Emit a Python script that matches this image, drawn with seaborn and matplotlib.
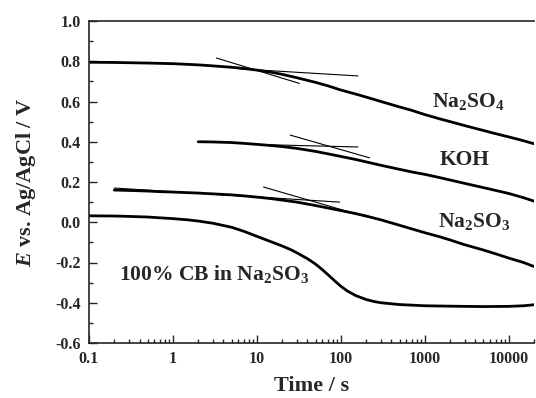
import numpy as np
import pandas as pd
import matplotlib
matplotlib.use("Agg")
import matplotlib.pyplot as plt
import seaborn as sns
from matplotlib.ticker import FixedLocator, LogLocator, MultipleLocator, NullFormatter

# data (time in s, E in V)
t_na2so4 = [0.1, 0.2, 0.5, 1, 2, 3, 5, 7, 10, 15, 20, 30, 50, 70, 100, 150, 200, 300,
            500, 700, 1000, 1500, 2000, 3000, 5000, 7000, 10000, 15000, 20000]
e_na2so4 = [0.795, 0.794, 0.791, 0.788, 0.782, 0.777, 0.770, 0.764, 0.756, 0.745, 0.735,
            0.718, 0.695, 0.678, 0.657, 0.637, 0.622, 0.600, 0.573, 0.556, 0.535, 0.514,
            0.500, 0.480, 0.456, 0.440, 0.424, 0.405, 0.390]

t_koh = [2, 3, 5, 7, 10, 15, 20, 30, 50, 70, 100, 150, 200, 300, 500, 700, 1000, 1500,
         2000, 3000, 5000, 7000, 10000, 15000, 20000]
e_koh = [0.400, 0.399, 0.396, 0.392, 0.387, 0.381, 0.376, 0.367, 0.352, 0.340, 0.327,
         0.312, 0.300, 0.283, 0.263, 0.250, 0.238, 0.222, 0.210, 0.193, 0.172, 0.158,
         0.143, 0.122, 0.105]

t_na2so3 = [0.2, 0.3, 0.5, 0.7, 1, 2, 3, 5, 7, 10, 15, 20, 30, 50, 70, 100, 150, 200, 300,
            500, 700, 1000, 1500, 2000, 3000, 5000, 7000, 10000, 15000, 20000]
e_na2so3 = [0.160, 0.158, 0.155, 0.152, 0.150, 0.145, 0.141, 0.136, 0.131, 0.125, 0.117,
            0.110, 0.100, 0.083, 0.071, 0.058, 0.043, 0.031, 0.012, -0.015, -0.033, -0.052,
            -0.072, -0.088, -0.112, -0.138, -0.157, -0.178, -0.200, -0.220]

t_cb = [0.1, 0.2, 0.3, 0.5, 0.7, 1, 1.5, 2, 3, 5, 7, 10, 15, 20, 25, 30, 40, 50, 60, 70,
        85, 100, 120, 150, 200, 250, 300, 500, 1000, 2000, 3000, 5000, 10000, 15000, 20000]
e_cb = [0.032, 0.031, 0.029, 0.026, 0.022, 0.018, 0.012, 0.006, -0.005, -0.025, -0.045,
        -0.070, -0.098, -0.118, -0.135, -0.152, -0.181, -0.208, -0.235, -0.260, -0.292,
        -0.318, -0.342, -0.364, -0.384, -0.394, -0.400, -0.409, -0.415, -0.417, -0.418,
        -0.419, -0.418, -0.415, -0.410]

# tangent construction lines (start, end)
tan_t = [[3.3, 32], [6.3, 160], [25, 220], [14, 160], [12, 204], [0.2, 97]]
tan_e = [[0.816, 0.69], [0.762, 0.727], [0.433, 0.32], [0.385, 0.374], [0.175, 0.026], [0.17, 0.10]]

sns.set_style("ticks")
plt.rcParams["font.family"] = ["Liberation Serif", "DejaVu Serif"]
plt.rcParams["font.weight"] = "bold"
plt.rcParams["axes.unicode_minus"] = False
plt.rcParams["mathtext.fontset"] = "custom"
plt.rcParams["mathtext.rm"] = "Liberation Serif:bold"
plt.rcParams["mathtext.it"] = "Liberation Serif:italic:bold"
plt.rcParams["mathtext.bf"] = "Liberation Serif:bold"

fig = plt.figure(figsize=(5.36, 3.98), dpi=100)
ax = fig.add_axes([89 / 536, 55 / 398, 445 / 536, 322 / 398])

curves = [(t_na2so4, e_na2so4), (t_koh, e_koh), (t_na2so3, e_na2so3), (t_cb, e_cb)]
for t, e in curves:
    df = pd.DataFrame({"t": t, "E": e})
    sns.lineplot(data=df, x="t", y="E", ax=ax, color="black", lw=2.0, estimator=None)

for t, e in zip(tan_t, tan_e):
    df = pd.DataFrame({"t": t, "E": e})
    sns.lineplot(data=df, x="t", y="E", ax=ax, color="black", lw=0.8, estimator=None)

ax.set_xscale("log")
ax.set_xlim(0.1, 20000)
ax.set_ylim(-0.6, 1.0)

ax.xaxis.set_major_locator(FixedLocator([0.1, 1, 10, 100, 1000, 10000]))
ax.set_xticklabels(["0.1", "1", "10", "100", "1000", "10000"])
ax.xaxis.set_minor_locator(LogLocator(base=10, subs=np.arange(2, 10)))
ax.xaxis.set_minor_formatter(NullFormatter())
ax.yaxis.set_minor_locator(MultipleLocator(0.1))
ax.set_yticks([1.0, 0.8, 0.6, 0.4, 0.2, 0.0, -0.2, -0.4, -0.6])
ax.set_yticklabels(["1.0", "0.8", "0.6", "0.4", "0.2", "0.0", "-0.2", "-0.4", "-0.6"])

ax.tick_params(which="both", direction="in", labelsize=11.5, width=1)
ax.tick_params(which="major", length=6, pad=6)
ax.tick_params(which="minor", length=3)
for lbl in ax.get_xticklabels() + ax.get_yticklabels():
    lbl.set_fontweight("bold")

ax.spines["right"].set_visible(False)
for s in ["left", "bottom", "top"]:
    ax.spines[s].set_linewidth(1.2)

ax.set_xlabel("Time / s", fontsize=16, fontweight="bold", labelpad=6)
ax.set_ylabel("$E$ vs. Ag/AgCl / V", fontsize=16, fontweight="bold", labelpad=12)

ax.text(3340, 0.60, "Na$_2$SO$_4$", fontsize=15.5, ha="center", va="center")
ax.text(2990, 0.309, "KOH", fontsize=15.5, ha="center", va="center")
ax.text(3830, 0.005, "Na$_2$SO$_3$", fontsize=15.5, ha="center", va="center")
ax.text(3.07, -0.255, "100% CB in Na$_2$SO$_3$", fontsize=15.5, ha="center", va="center")

fig.savefig("out.png", dpi=100)
